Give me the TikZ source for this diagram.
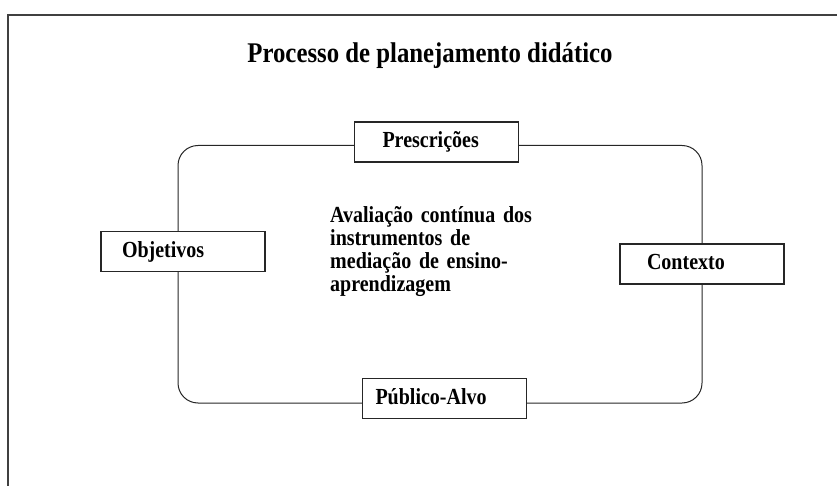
\documentclass[tikz,border=0pt]{standalone}
\usepackage{fontspec}
\setmainfont{Liberation Serif}[FakeStretch=0.87]
\usepackage{tikz}
\tikzset{
		etapa/.style={draw=black!85, line width=1.2pt, fill=white,
			font=\bfseries\fontsize{23}{23}\selectfont,
			text width=164pt, inner xsep=0pt, align=left,
			minimum height=40pt, text height=14.5pt, text depth=3.5pt,
			execute at begin node={\hspace*{#1}}},
		ciclo/.style={draw=black!85, line width=1pt, rounded corners=20pt},
		moldura/.style={draw=black!75, line width=1.8pt},
		titulo/.style={font=\bfseries\fontsize{28.5}{30}\selectfont, anchor=base}
	}
\begin{document}
\begin{tikzpicture}[x=1pt,y=-1pt]
		\useasboundingbox (0,0) rectangle (837,486);
		\draw[moldura] (8,490) -- (8,15) -- (840,15);

		\node[titulo] (tit) at (430,63) {Processo de planejamento didático};

		\node[etapa=28pt] (pres) at (436.5,142)   {Prescrições};
		\node[etapa=21pt] (obj)  at (183,251.5)   {Objetivos};
		\node[etapa=27pt] (cont) at (702,264)     {Contexto};
		\node[etapa=13pt] (pub)  at (444.5,398.5) {Público-Alvo};

		\node[font=\bfseries\fontsize{23}{23}\selectfont, text width=220pt, align=left,
			anchor=north west, inner sep=0pt] (aval) at (330,206)
			{Avaliação contínua dos\\ instrumentos de\\ mediação de ensino-\\ aprendizagem};

		\draw[ciclo] ([yshift=-3.5pt]pres.east) -| (cont.north);
		\draw[ciclo] (cont.south) |- ([yshift=-4.5pt]pub.east);
		\draw[ciclo] ([yshift=-4.5pt]pub.west) -| ([xshift=-5pt]obj.south);
		\draw[ciclo] ([xshift=-5pt]obj.north) |- ([yshift=-3.5pt]pres.west);
	\end{tikzpicture}
\end{document}
